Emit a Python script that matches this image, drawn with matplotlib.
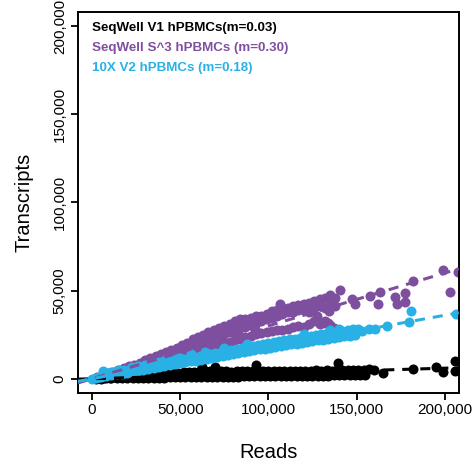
import numpy as np
import matplotlib
matplotlib.use("Agg")
import matplotlib.pyplot as plt

plt.rcParams['font.family'] = ['Liberation Sans', 'DejaVu Sans']

# reads / transcripts per cell barcode, SeqWell V1
v1_reads = [2000, 5000, 8000, 11000, 14000, 17000, 20000, 23000, 26000, 29000,
            32000, 35000, 38000, 41000, 44000, 47000, 50000, 53000, 56000, 59000,
            62000, 65000, 68000, 71000, 74000, 77000, 80000, 83000, 86000, 89000,
            92000, 95000, 98000, 101000, 104000, 107000, 110000, 113000, 116000, 119000,
            122000, 125000, 128000, 131000, 134000, 137000, 140000, 143000, 146000, 149000,
            152000, 155000,
            4000, 7000, 10000, 13000, 16000, 19000, 22000, 25000, 28000, 31000,
            34000, 37000, 40000, 43000, 46000, 49000, 52000, 55000, 58000, 61000,
            64000, 67000, 70000, 73000, 76000, 79000, 82000, 85000, 88000, 91000,
            94000, 97000, 100000, 103000, 106000, 109000, 112000, 115000, 118000, 121000,
            124000, 127000, 130000, 133000, 136000, 139000, 142000, 145000, 148000, 151000,
            154000, 157000,
            45000, 62600, 70000, 92700, 139700, 160000, 165000, 182000, 195000, 199000,
            205600, 205600]
v1_trans = [50, 100, 150, 200, 250, 300, 350, 400, 450, 500,
            550, 600, 650, 700, 750, 800, 850, 900, 950, 1000,
            1000, 1050, 1100, 1100, 1150, 1200, 1200, 1250, 1300, 1300,
            1350, 1400, 1400, 1450, 1500, 1500, 1550, 1600, 1600, 1650,
            1700, 1700, 1750, 1800, 1800, 1850, 1900, 1900, 1950, 2000,
            2000, 2100,
            280, 500, 700, 900, 1100, 1350, 1550, 1750, 2000, 2200,
            2400, 2600, 2800, 3000, 3200, 3450, 3650, 3850, 4100, 4300,
            4500, 4400, 4200, 4500, 4300, 4100, 4400, 4200, 4500, 4300,
            4600, 4200, 4400, 4500, 4200, 4600, 4300, 4500, 4200, 4600,
            4400, 4700, 4500, 4800, 4600, 4900, 4700, 5000, 4900, 5200,
            5000, 5300,
            5200, 6400, 6600, 7800, 8700, 5000, 3000, 5500, 6400, 3600,
            10200, 4500]

# SeqWell S^3
s3_reads = [3000, 6000, 9000, 12000, 15000, 18000, 21000, 24000, 27000, 30000,
            33000, 36000, 39000, 42000, 45000, 48000, 51000, 54000, 57000, 60000,
            63000, 66000, 69000, 72000, 75000, 78000, 81000, 84000, 87000, 90000,
            93000, 96000, 99000, 102000, 105000, 108000, 111000, 114000, 117000, 120000,
            123000, 126000, 129000, 132000, 135000, 138000,
            15000, 18000, 21000, 24000, 27000, 30000, 33000, 36000, 39000, 42000,
            45000, 48000, 51000, 54000, 57000, 60000, 63000, 66000, 69000, 72000,
            75000, 78000, 81000, 84000, 87000, 90000, 93000, 96000, 99000, 102000,
            105000, 108000, 111000, 114000, 117000, 120000, 123000, 126000, 129000, 132000,
            135000,
            45000, 48000, 51000, 54000, 57000, 60000, 63000, 66000, 69000, 72000,
            75000, 78000, 81000, 84000, 87000, 90000, 93000, 96000, 99000, 102000,
            105000, 108000, 111000, 114000, 117000, 120000, 123000, 126000, 129000, 132000,
            135000,
            106800, 112600, 122800, 123700, 127500, 132200, 134100, 129400, 135000, 137900,
            140700, 147300, 149200, 157600, 162300, 163300, 171800, 172700, 177400, 177400,
            182100, 199100, 202800, 207500, 134000, 137000]
s3_trans = [1000, 2000, 3000, 4000, 5000, 6000, 7000, 8000, 9200, 10400,
            11600, 12800, 14000, 15200, 16400, 17600, 18900, 20500, 22300, 23500,
            25000, 26500, 27800, 29000, 30000, 31200, 32800, 34000, 33800, 34600,
            35600, 35400, 37000, 38500, 39000, 40200, 40000, 41000, 41800, 42500,
            43000, 44000, 45000, 46000, 47400, 46000,
            4300, 5200, 6100, 7000, 7800, 8700, 9600, 10400, 11300, 12200,
            13000, 14000, 15500, 16800, 18200, 19800, 21200, 22400, 23500, 24500,
            25500, 26500, 27500, 28600, 29600, 30600, 31600, 32600, 33700, 34700,
            35700, 36700, 37700, 38000, 38800, 39000, 38000, 40000, 41000, 40000,
            42000,
            12200, 13000, 13800, 14600, 15400, 16200, 17000, 17800, 18600, 19400,
            20300, 21100, 21900, 22700, 23500, 24300, 25100, 25900, 26700, 27300,
            27800, 27600, 28400, 29300, 29800, 29600, 31200, 32500, 30800, 31600,
            30500,
            42400, 38600, 42400, 39600, 35800, 33000, 38600, 42400, 44700, 41500,
            50400, 45300, 42400, 47200, 42400, 49300, 46200, 42400, 48700, 43400,
            55300, 61900, 49000, 60400, 31800, 29000]

# 10X V2
v2_reads = [2000, 5000, 8000, 11000, 14000, 17000, 20000, 23000, 26000, 29000,
            32000, 35000, 38000, 41000, 44000, 47000, 50000, 53000, 56000, 59000,
            62000, 65000, 68000, 71000, 74000, 77000, 80000, 83000, 86000, 89000,
            92000, 95000, 98000, 101000, 104000, 107000, 110000, 113000, 116000, 119000,
            122000, 125000, 128000, 131000, 134000, 137000, 140000, 143000, 146000, 149000,
            4000, 7000, 10000, 13000, 16000, 19000, 22000, 25000, 28000, 31000,
            34000, 37000, 40000, 43000, 46000, 49000, 52000, 55000, 58000, 61000,
            64000, 67000, 70000, 73000, 76000, 79000, 82000, 85000, 88000, 91000,
            94000, 97000, 100000, 103000, 106000, 109000, 112000, 115000, 118000, 121000,
            124000, 127000, 130000, 133000, 136000, 139000, 142000, 145000, 148000, 151000,
            6000, 8000, 11000, 14000, 15300, 18000, 22000, 22800, 26000, 29400,
            30000, 34000, 35000, 38000, 41600, 42000, 46000, 49200, 50000, 56000,
            64000, 75000, 88000, 120000, 135000, 140000,
            0, 153000, 157000, 160500, 167000, 180000, 180600, 206600]
v2_trans = [350, 850, 1400, 1900, 2450, 2950, 3500, 4000, 4550, 5050,
            5600, 6100, 6650, 7150, 7700, 8200, 8750, 9250, 9800, 10300,
            10850, 11350, 11900, 12400, 12950, 13450, 14000, 14500, 15050, 15550,
            16100, 16600, 17150, 17650, 18100, 18600, 19000, 19500, 19900, 20400,
            20900, 21300, 21800, 22200, 22700, 23100, 23600, 24100, 24500, 25000,
            1200, 1900, 2600, 3200, 3900, 4500, 5100, 5800, 6400, 7000,
            7600, 8200, 8800, 9400, 10000, 10600, 11200, 11800, 12400, 12900,
            13500, 14100, 14700, 15200, 15800, 16400, 17000, 17500, 18100, 18700,
            19300, 19800, 20400, 20900, 21400, 21900, 22300, 22800, 23300, 23800,
            24200, 24700, 25200, 25700, 26100, 26600, 27100, 27600, 28000, 28500,
            4300, 3500, 4000, 4500, 4800, 5200, 6200, 6500, 7000, 7500,
            7800, 8500, 9000, 9500, 10500, 10500, 11200, 11500, 12000, 13800,
            15200, 17300, 19800, 25500, 27800, 28500,
            0, 27300, 28000, 28400, 30000, 32000, 38200, 36700]

labels = ['SeqWell V1 hPBMCs(m=0.03)', 'SeqWell S^3 hPBMCs (m=0.30)', '10X V2 hPBMCs (m=0.18)']
slopes = [0.03, 0.30, 0.18]
colors = ['black', '#7E4F9E', '#29B1E5']

fig = plt.figure(figsize=(4.75, 4.66), dpi=100)
ax = fig.add_axes([0.164, 0.157, 0.802, 0.817])

series = [(v1_reads, v1_trans), (s3_reads, s3_trans), (v2_reads, v2_trans)]
for (x, y), c in zip(series, colors):
    ax.scatter(x, y, s=52, color=c, linewidths=0, zorder=2)

ax.set_xlim(-8000, 208000)
ax.set_ylim(-8000, 208000)

# fitted lines through the origin
xx = np.array([-8000, 208000])
for m, c in zip(slopes, colors):
    ax.plot(xx, m * xx, color=c, lw=2.2, ls=(0, (3.3, 2.6)), zorder=3)

ticks = [0, 50000, 100000, 150000, 200000]
ticklabels = ['0', '50,000', '100,000', '150,000', '200,000']
ax.set_xticks(ticks)
ax.set_xticklabels(ticklabels)
ax.set_yticks(ticks)
ax.set_yticklabels(ticklabels, rotation=90, va='center')
ax.tick_params(labelsize=11, length=5, width=1.3, pad=2, color='black')
ax.tick_params(axis='y', pad=3)
for sp in ax.spines.values():
    sp.set_linewidth(1.4)

ax.set_xlabel('Reads', fontsize=14.5, labelpad=19)
ax.set_ylabel('Transcripts', fontsize=14.5, labelpad=14)

for i, (lab, c) in enumerate(zip(labels, colors)):
    ax.text(0.037, 0.958 - i * 0.0525, lab, color=c, fontsize=9.6,
            fontweight='bold', transform=ax.transAxes, va='center', ha='left')

fig.savefig('out.png', dpi=100)
